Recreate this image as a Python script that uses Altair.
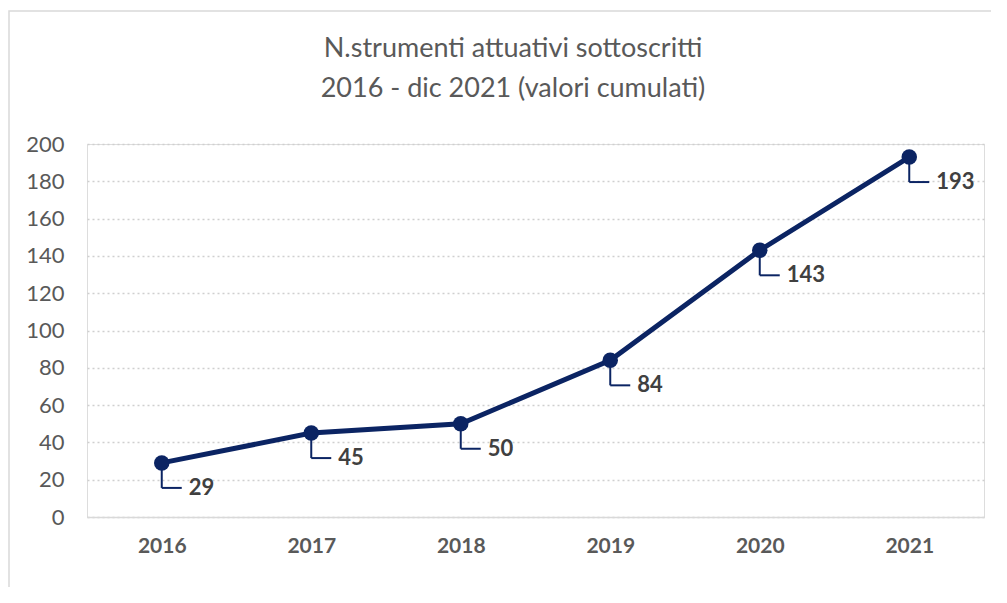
import altair as alt
import pandas as pd

years = ["2016", "2017", "2018", "2019", "2020", "2021"]
values = [29, 45, 50, 84, 143, 193]
y_ticks = [0, 20, 40, 60, 80, 100, 120, 140, 160, 180, 200]
title_lines = ["N.strumenti attuativi sottoscritti", "2016 - dic 2021 (valori cumulati)"]

df = pd.DataFrame({"year": years, "value": values})

NAVY = "#0b2463"
GRAY = "#595959"
FONT = "Lato"

x = alt.X("year:O", scale=alt.Scale(type="point", padding=0.5),
          axis=alt.Axis(title=None, labelAngle=0, labelFontSize=21, labelFontWeight="bold",
                        labelColor=GRAY, labelFont=FONT, labelPadding=18, ticks=False,
                        domainColor="#d9d9d9", domainWidth=1.5, grid=False))
y = alt.Y("value:Q", scale=alt.Scale(domain=[0, 200], nice=False),
          axis=alt.Axis(title=None, values=y_ticks, labelFontSize=22, labelColor=GRAY,
                        labelFont=FONT, labelPadding=23, ticks=False, domain=False,
                        labelOverlap=False, tickCount=11,
                        grid=True, gridColor="#cfcfcf", gridDash=[2, 3], gridWidth=1.5))
y2 = alt.Y2("value:Q")

base = alt.Chart(df)
one = alt.Data(values=[{}])

frame = alt.Chart(one).mark_rect(
    fillOpacity=0, stroke="#d9d9d9", strokeWidth=1.5
).encode(x=alt.value(-78), x2=alt.value(925), y=alt.value(-133), y2=alt.value(470))

title = alt.Chart(one).mark_text(
    fontSize=27, font=FONT, color=GRAY, lineHeight=40, align="center", baseline="top"
).encode(x=alt.value(426), y=alt.value(-108), text=alt.value(title_lines))

line = base.mark_line(color=NAVY, strokeWidth=5).encode(x=x, y=y)
pts = base.mark_circle(color=NAVY, opacity=1, size=240).encode(x=x, y=y)

lead_v = base.mark_rule(color=NAVY, strokeWidth=2, y2Offset=25).encode(x=x, y=y, y2=y2)
lead_h = base.mark_rule(color=NAVY, strokeWidth=2, yOffset=25, y2Offset=25, x2Offset=20).encode(
    x=x, x2=alt.X2("year:O"), y=y)
labels = base.mark_text(align="left", baseline="middle", dx=27, dy=25, fontSize=22,
                        fontWeight="bold", color="#404040", font=FONT).encode(
    x=x, y=y, text="value:Q")

chart = alt.layer(frame, line, lead_v, lead_h, pts, labels, title).properties(
    width=897, height=373,
    autosize=alt.AutoSizeParams(type="none"),
    padding={"left": 79, "top": 136, "right": 7, "bottom": 70},
).configure_view(stroke=None).configure(background="white")

chart.save("out.html", embed_options={"renderer": "svg", "actions": False})
